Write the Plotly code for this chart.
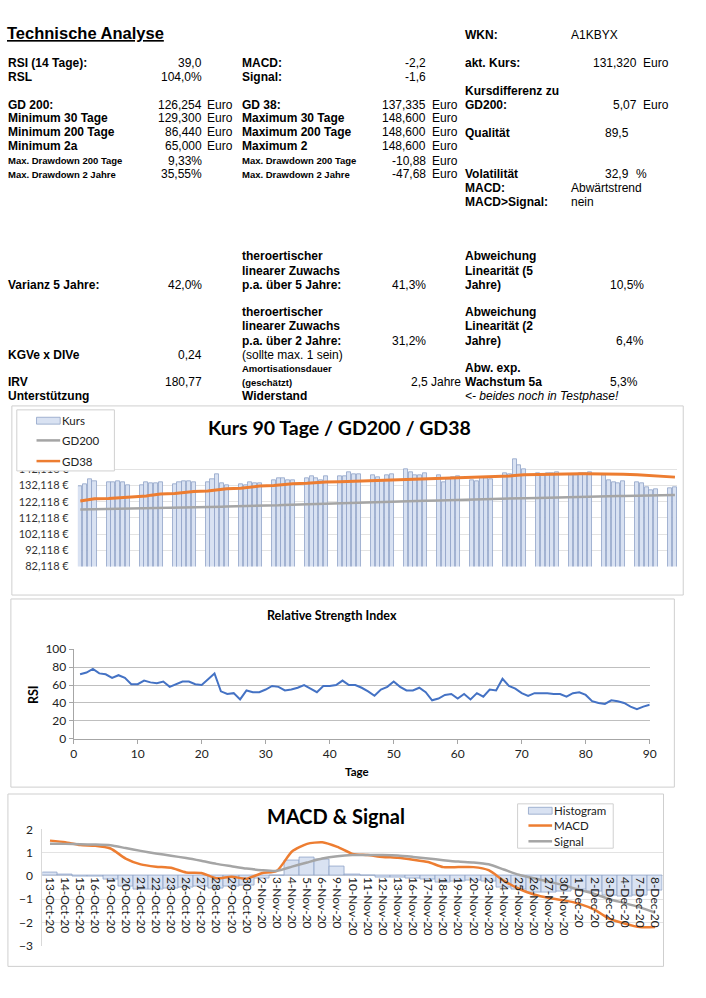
import plotly.graph_objects as go
import pandas as pd

W, H = 706, 998

# ---------------- data ----------------
kurs_dates = pd.bdate_range("2020-08-04", "2020-12-08")
kurs = [131.7, 132.9, 135.8, 134.8,
        134.4, 134.0, 135.0, 134.2, 132.4,
        132.2, 134.0, 133.6, 133.6, 134.0,
        132.8, 134.0, 134.8, 134.8, 134.4,
        134.0, 136.2, 139.4, 133.4, 132.6,
        133.0, 132.2, 134.4, 133.8, 133.8,
        135.2, 136.8, 136.4, 135.2, 135.2,
        136.4, 137.6, 136.4, 135.2, 138.0,
        138.0, 138.0, 140.6, 139.4, 139.4,
        138.4, 137.2, 135.7, 138.4, 139.4,
        142.5, 140.6, 138.8, 138.8, 140.0,
        138.4, 134.4, 135.9, 137.2, 137.6,
        135.6, 135.0, 137.4, 136.6, 136.0,
        139.6, 139.2, 148.5, 144.5, 142.2,
        139.6, 138.6, 140.0, 140.0, 140.2,
        138.6, 138.6, 139.6, 140.0, 140.2,
        138.6, 135.5, 134.4, 133.6, 134.8,
        134.4, 133.4, 131.2, 129.3, 129.9,
        130.5, 131.32]
gd200 = [117.3, 117.35, 117.4, 117.45,
         117.5, 117.6, 117.7, 117.75, 117.8,
         117.9, 118.0, 118.1, 118.15, 118.2,
         118.3, 118.4, 118.5, 118.6, 118.7,
         118.8, 118.9, 119.0, 119.1, 119.2,
         119.3, 119.4, 119.5, 119.6, 119.7,
         119.8, 119.95, 120.1, 120.2, 120.3,
         120.45, 120.6, 120.7, 120.85, 121.0,
         121.1, 121.25, 121.4, 121.5, 121.6,
         121.75, 121.9, 122.0, 122.1, 122.2,
         122.35, 122.5, 122.6, 122.7, 122.8,
         122.9, 123.0, 123.1, 123.2, 123.3,
         123.4, 123.5, 123.6, 123.7, 123.8,
         123.9, 124.0, 124.15, 124.25, 124.35,
         124.45, 124.55, 124.65, 124.75, 124.85,
         124.95, 125.05, 125.15, 125.25, 125.35,
         125.45, 125.5, 125.6, 125.7, 125.75,
         125.85, 125.9, 126.0, 126.05, 126.1,
         126.2, 126.254]
gd38 = [122.6, 123.1, 123.6, 123.9,
        124.2, 124.4, 124.6, 124.9, 125.1,
        125.3, 125.7, 126.2, 126.6, 126.9,
        127.2, 127.5, 127.9, 128.2, 128.4,
        128.7, 129.0, 129.5, 129.8, 130.1,
        130.4, 130.7, 131.1, 131.5, 131.8,
        132.1, 132.4, 132.7, 133.0, 133.3,
        133.6, 133.8, 134.0, 134.1, 134.3,
        134.5, 134.6, 134.7, 134.8, 134.9,
        135.0, 135.1, 135.2, 135.3, 135.4,
        135.5, 135.8, 136.0, 136.2, 136.3,
        136.5, 136.6, 136.7, 136.8, 136.9,
        137.0, 137.1, 137.3, 137.4, 137.6,
        137.9, 138.1, 138.4, 138.6, 138.8,
        138.9, 139.0, 139.1, 139.2, 139.2,
        139.3, 139.3, 139.4, 139.4, 139.4,
        139.4, 139.4, 139.3, 139.2, 139.1,
        138.8, 138.6, 138.4, 138.2, 138.0,
        137.6, 137.335]
kurs_tickvals = [82.118, 92.118, 102.118, 112.118, 122.118, 132.118, 142.118, 152.118]
kurs_ticktext = ["82,118 €", "92,118 €", "102,118 €", "112,118 €", "122,118 €",
                 "132,118 €", "142,118 €", ""]

rsi_days = list(range(1, 91))
rsi = [72, 74, 78, 73, 72, 68, 71, 68, 61, 61,
       65, 63, 62, 64, 58, 61, 64, 64, 61, 60,
       66, 73, 53, 50, 51, 44, 54, 52, 52, 55,
       59, 58, 54, 55, 57, 60, 56, 52, 59, 59,
       60, 65, 60, 60, 57, 53, 48, 55, 58, 64,
       58, 54, 54, 57, 52, 43, 45, 49, 50, 45,
       50, 44, 51, 47, 55, 54, 67, 59, 56, 51,
       48, 51, 51, 51, 50, 50, 47, 51, 52, 49,
       42, 40, 39, 43, 42, 40, 36, 33, 36, 38]

macd_dates = ["13-Oct-20", "14-Oct-20", "15-Oct-20", "16-Oct-20", "19-Oct-20", "20-Oct-20",
              "21-Oct-20", "22-Oct-20", "23-Oct-20", "26-Oct-20", "27-Oct-20", "28-Oct-20",
              "29-Oct-20", "30-Oct-20", "2-Nov-20", "3-Nov-20", "4-Nov-20", "5-Nov-20",
              "6-Nov-20", "9-Nov-20", "10-Nov-20", "11-Nov-20", "12-Nov-20", "13-Nov-20",
              "16-Nov-20", "17-Nov-20", "18-Nov-20", "19-Nov-20", "20-Nov-20", "23-Nov-20",
              "24-Nov-20", "25-Nov-20", "26-Nov-20", "27-Nov-20", "30-Nov-20", "1-Dec-20",
              "2-Dec-20", "3-Dec-20", "4-Dec-20", "7-Dec-20", "8-Dec-20"]
macd = [1.52, 1.45, 1.33, 1.30, 1.18, 0.75, 0.50, 0.40, 0.35, 0.15, 0.13, -0.10,
        -0.03, -0.12, 0.12, 0.22, 1.05, 1.38, 1.45, 1.25, 0.95, 0.90, 0.82, 0.78,
        0.70, 0.60, 0.38, 0.38, 0.38, 0.25, -0.20, -0.55, -0.80, -0.95, -1.05, -1.20,
        -1.45, -1.85, -2.05, -2.20, -2.20]
signal = [1.38, 1.38, 1.36, 1.35, 1.32, 1.20, 1.08, 0.97, 0.87, 0.77, 0.65, 0.52,
          0.42, 0.32, 0.25, 0.22, 0.40, 0.58, 0.75, 0.85, 0.90, 0.90, 0.90, 0.88,
          0.82, 0.75, 0.68, 0.62, 0.58, 0.50, 0.28, 0.05, -0.10, -0.25, -0.40, -0.60,
          -0.77, -1.00, -1.17, -1.35, -1.57]
histogram = [0.15, 0.05, -0.03, -0.03, -0.15, -0.45, -0.58, -0.57, -0.52, -0.50, -0.45, -0.55,
             -0.45, -0.42, -0.12, 0.0, 0.65, 0.80, 0.70, 0.42, 0.05, 0.0, -0.05, -0.08,
             -0.12, -0.15, -0.30, -0.22, -0.18, -0.22, -0.48, -0.60, -0.70, -0.70, -0.65, -0.60,
             -0.68, -0.85, -0.88, -0.85, -0.63]
macd_tickvals = [-3, -2, -1, 0, 1, 2]

# ---------------- styles ----------------
CF = "Lato, Carlito, sans-serif"          # Calibri-like chart font
AF = "Liberation Sans, Arial, sans-serif"  # Arial-like table font
BAR_FILL = "#D9E2F2"
BAR_LINE = "#8EA2C6"
ORANGE = "#ED7D31"
GREY = "#A5A5A5"
BLUE = "#4472C4"


def fx(x):
    return x / W


def fy(y):
    return 1 - y / H


fig = go.Figure()

# chart 1
fig.add_trace(go.Bar(x=kurs_dates, y=kurs, name="Kurs", marker=dict(color=BAR_FILL, line=dict(color=BAR_LINE, width=0.8)),
                     width=0.86 * 86400000, xaxis="x", yaxis="y", showlegend=False))
fig.add_trace(go.Scatter(x=kurs_dates, y=gd200, name="GD200", mode="lines", line=dict(color=GREY, width=2.5),
                         xaxis="x", yaxis="y", showlegend=False))
fig.add_trace(go.Scatter(x=kurs_dates, y=gd38, name="GD38", mode="lines", line=dict(color=ORANGE, width=3),
                         xaxis="x", yaxis="y", showlegend=False))
# chart 2
fig.add_trace(go.Scatter(x=rsi_days, y=rsi, mode="lines", line=dict(color=BLUE, width=2), showlegend=False,
                         xaxis="x2", yaxis="y2"))
# chart 3
fig.add_trace(go.Bar(x=macd_dates, y=histogram, name="Histogram", width=1.0,
                     marker=dict(color=BAR_FILL, line=dict(color=BAR_LINE, width=0.8)),
                     xaxis="x3", yaxis="y3", showlegend=False))
fig.add_trace(go.Scatter(x=macd_dates, y=macd, name="MACD", mode="lines",
                         line=dict(color=ORANGE, width=2.5, shape="spline", smoothing=0.6),
                         xaxis="x3", yaxis="y3", showlegend=False))
fig.add_trace(go.Scatter(x=macd_dates, y=signal, name="Signal", mode="lines",
                         line=dict(color=GREY, width=2.5, shape="spline", smoothing=0.6),
                         xaxis="x3", yaxis="y3", showlegend=False))

c3_dom = [fy(952), fy(834)]
zero_pos = c3_dom[0] + (0 - (-3)) / 5 * (c3_dom[1] - c3_dom[0])

fig.update_layout(
    width=W, height=H, margin=dict(l=0, r=0, t=0, b=0),
    paper_bgcolor="white", plot_bgcolor="white",
    bargap=0, showlegend=False,
    xaxis=dict(domain=[fx(76), fx(684)], type="date", range=["2020-08-03 12:00", "2020-12-08 12:00"],
               showticklabels=False, showgrid=False, zeroline=False, anchor="y"),
    yaxis=dict(domain=[fy(567), fy(452)], range=[82.118, 152.118], tickvals=kurs_tickvals, ticktext=kurs_ticktext,
               showgrid=True, gridcolor="#E3E3E3", zeroline=False, anchor="x",
               tickfont=dict(family=CF, size=11, color="#333"), ticks="outside", ticklen=6, tickcolor="rgba(0,0,0,0)"),
    xaxis2=dict(domain=[fx(71.7), fx(656)], range=[0, 90], dtick=10, tick0=0, anchor="y2",
                showgrid=False, zeroline=False, showline=True, linecolor="#A6A6A6", linewidth=1,
                ticks="outside", ticklen=4, tickcolor="#A6A6A6",
                tickfont=dict(family=CF, size=12, color="#222")),
    yaxis2=dict(domain=[fy(742), fy(651)], range=[0, 100], dtick=20, anchor="x2",
                showgrid=True, gridcolor="#BFBFBF", zeroline=False, showline=True, linecolor="#A6A6A6",
                ticks="outside", ticklen=4, tickcolor="#A6A6A6",
                tickfont=dict(family=CF, size=12, color="#222")),
    xaxis3=dict(domain=[fx(40), fx(669)], type="category", range=[-0.5, 40.5], anchor="free", position=zero_pos,
                showgrid=False, zeroline=False, showline=False, ticks="", tickangle=90,
                tickfont=dict(family=CF, size=12, color="#222")),
    yaxis3=dict(domain=c3_dom, range=[-3, 2], tickvals=macd_tickvals, anchor="x3",
                showgrid=True, gridcolor="#E3E3E3", zeroline=False, showline=True, linecolor="#D9D9D9",
                tickfont=dict(family=CF, size=12, color="#222"), ticks="outside", ticklen=6, tickcolor="rgba(0,0,0,0)"),
)

# chart frames
for (x0, y0, x1, y1) in [(9, 404, 690, 596), (8, 600, 681, 791), (5, 798, 670, 973)]:
    fig.add_shape(type="rect", xref="paper", yref="paper", x0=fx(x0), x1=fx(x1), y0=fy(y0), y1=fy(y1),
                  line=dict(color="#CFCFCF", width=1), fillcolor="rgba(0,0,0,0)", layer="below")


def txt(s, x, y, anchor="left", size=12, bold=False, italic=False, family=AF, angle=0, color="black"):
    if bold:
        s = "<b>" + s + "</b>"
    if italic:
        s = "<i>" + s + "</i>"
    fig.add_annotation(text=s, x=fx(x), y=fy(y), xref="paper", yref="paper", xanchor=anchor, yanchor="middle",
                       showarrow=False, textangle=angle, borderpad=0,
                       font=dict(family=family, size=size, color=color))


def legend_box(x0, y0, x1, y1, entries, size, pad):
    # entries: (name, kind, color, y)
    fig.add_shape(type="rect", xref="paper", yref="paper", x0=fx(x0), x1=fx(x1), y0=fy(y0), y1=fy(y1),
                  line=dict(color="#D0D0D0", width=1), fillcolor="white", layer="above")
    for name, kind, color, y in entries:
        sx0, sx1 = x0 + pad, x0 + pad + 24
        if kind == "bar":
            fig.add_shape(type="rect", xref="paper", yref="paper", x0=fx(sx0), x1=fx(sx1), y0=fy(y - 3.5),
                          y1=fy(y + 3.5), line=dict(color=BAR_LINE, width=0.8), fillcolor=BAR_FILL, layer="above")
        else:
            fig.add_shape(type="line", xref="paper", yref="paper", x0=fx(sx0), x1=fx(sx1), y0=fy(y), y1=fy(y),
                          line=dict(color=color, width=2.5), layer="above")
        txt(name, sx1 + 1, y, size=size, family=CF, color="#222")


# manual legends (drawn above the axes)
legend_box(14, 408, 113, 470, [("Kurs", "bar", None, 419), ("GD200", "line", GREY, 439),
                               ("GD38", "line", ORANGE, 460)], 11.5, 20)
legend_box(522, 808, 619, 853, [("Histogram", "bar", None, 815), ("MACD", "line", ORANGE, 830),
                                ("Signal", "line", GREY, 846)], 11.5, 11)

# chart titles and axis titles
txt("Kurs 90 Tage / GD200 / GD38", 341, 426, anchor="center", size=19.5, bold=True, family=CF)
txt("Relative Strength Index", 334, 617, anchor="center", size=12.5, bold=True, family=CF)
txt("RSI", 31, 697, anchor="center", size=12.5, bold=True, family=CF, angle=-90)
txt("Tage", 359, 775, anchor="center", size=11.5, bold=True, family=CF)
txt("MACD &amp; Signal", 338, 820, anchor="center", size=20, bold=True, family=CF)

# ---------------- table text ----------------
fig.add_annotation(text="<b><u>Technische Analyse</u></b>", x=fx(3), y=fy(25), xref="paper", yref="paper",
                   xanchor="left", yanchor="middle", showarrow=False, borderpad=0,
                   font=dict(family=AF, size=16.5, color="black"))

labels_a = [("RSI (14 Tage):", 56, 12), ("RSL", 70, 12), ("GD 200:", 98, 12), ("Minimum 30 Tage", 112, 12),
            ("Minimum 200 Tage", 126, 12), ("Minimum 2a", 140, 12), ("Max. Drawdown 200 Tage", 155, 9.5),
            ("Max. Drawdown 2 Jahre", 169, 9.5), ("Varianz 5 Jahre:", 281, 12), ("KGVe x DIVe", 352, 12),
            ("IRV", 380, 12), ("Unterstützung", 394, 12)]
for s, y, sz in labels_a:
    txt(s, 4, y, size=sz, bold=True)
values_a = [("39,0", 56), ("104,0%", 70), ("126,254", 98), ("129,300", 112), ("86,440", 126), ("65,000", 140),
            ("9,33%", 155), ("35,55%", 169), ("42,0%", 281), ("0,24", 352), ("180,77", 380)]
for s, y in values_a:
    txt(s, 203, y, anchor="right")
for y in [98, 112, 126, 140]:
    txt("Euro", 206, y)

labels_b = [("MACD:", 56, 12), ("Signal:", 70, 12), ("GD 38:", 98, 12), ("Maximum 30 Tage", 112, 12),
            ("Maximum 200 Tage", 126, 12), ("Maximum 2", 140, 12), ("Max. Drawdown 200 Tage", 155, 9.5),
            ("Max. Drawdown 2 Jahre", 169, 9.5), ("theroertischer", 252, 12), ("linearer Zuwachs", 267, 12),
            ("p.a. über 5 Jahre:", 281, 12), ("theroertischer", 309, 12), ("linearer Zuwachs", 323, 12),
            ("p.a. über 2 Jahre:", 338, 12), ("Amortisationsdauer", 366, 9.5), ("(geschätzt)", 380, 9.5),
            ("Widerstand", 394, 12)]
for s, y, sz in labels_b:
    txt(s, 241, y, size=sz, bold=True)
txt("(sollte max. 1 sein)", 241, 352)
values_b = [("-2,2", 56), ("-1,6", 70), ("137,335", 98), ("148,600", 112), ("148,600", 126), ("148,600", 140),
            ("-10,88", 155), ("-47,68", 169), ("41,3%", 281), ("31,2%", 338)]
for s, y in values_b:
    txt(s, 430, y, anchor="right")
for y in [98, 112, 126, 140, 155, 169]:
    txt("Euro", 434, y)
txt("2,5 Jahre", 466, 380, anchor="right")

labels_c = [("WKN:", 27), ("akt. Kurs:", 56), ("Kursdifferenz zu", 84), ("GD200:", 98), ("Qualität", 127),
            ("Volatilität", 169), ("MACD:", 183), ("MACD&gt;Signal:", 197), ("Abweichung", 252),
            ("Linearität (5", 267), ("Jahre)", 281), ("Abweichung", 309), ("Linearität (2", 323),
            ("Jahre)", 338), ("Abw. exp.", 366), ("Wachstum 5a", 380)]
for s, y in labels_c:
    txt(s, 468, y, bold=True)
txt("&lt;- beides noch in Testphase!", 468, 394, italic=True)
txt("A1KBYX", 575, 27)
txt("131,320", 644, 56, anchor="right")
txt("Euro", 648, 56)
txt("5,07", 644, 98, anchor="right")
txt("Euro", 648, 98)
txt("89,5", 636, 127, anchor="right")
txt("32,9", 636, 169, anchor="right")
txt("%", 641, 169)
txt("Abwärtstrend", 575, 183)
txt("nein", 575, 197)
txt("10,5%", 651, 281, anchor="right")
txt("6,4%", 651, 338, anchor="right")
txt("5,3%", 645, 380, anchor="right")

PAGE_JS = ("var d=document.documentElement,b=document.body;"
           "d.style.margin='0';d.style.padding='0';d.style.overflow='hidden';"
           "b.style.margin='0';b.style.padding='0';b.style.overflow='hidden';")
fig.write_html("out.html", config={"displayModeBar": False}, post_script=PAGE_JS)
